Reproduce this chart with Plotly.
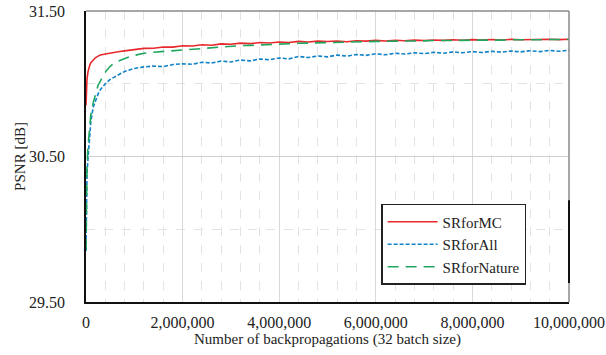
import plotly.graph_objects as go

iterations = [0, 10000, 20000, 40000, 60000, 80000, 100000, 150000, 200000, 250000,
              300000, 400000, 500000, 600000, 700000, 800000, 900000, 1000000,
              1200000, 1400000, 1600000, 1800000, 2000000, 2200000, 2400000, 2600000,
              2800000, 3000000, 3200000, 3400000, 3600000, 3800000, 4000000, 4200000,
              4400000, 4600000, 4800000, 5000000, 5200000, 5400000, 5600000, 5800000,
              6000000, 6200000, 6400000, 6600000, 6800000, 7000000, 7200000, 7400000,
              7600000, 7800000, 8000000, 8200000, 8400000, 8600000, 8800000, 9000000,
              9200000, 9400000, 9600000, 9800000, 10000000]

sr_for_mc = [30.85, 30.98, 31.03, 31.08, 31.11, 31.13, 31.145, 31.165, 31.18, 31.19,
             31.198, 31.205, 31.212, 31.218, 31.222, 31.226, 31.23, 31.235,
             31.243, 31.244, 31.253, 31.252, 31.261, 31.259, 31.268, 31.265,
             31.274, 31.271, 31.279, 31.276, 31.283, 31.280, 31.287, 31.284,
             31.291, 31.287, 31.293, 31.290, 31.294, 31.289, 31.296, 31.293,
             31.298, 31.294, 31.299, 31.296, 31.300, 31.297, 31.301, 31.298,
             31.302, 31.299, 31.303, 31.300, 31.304, 31.301, 31.305, 31.302,
             31.305, 31.303, 31.306, 31.303, 31.306]

sr_for_all = [29.85, 30.15, 30.38, 30.48, 30.58, 30.68, 30.74, 30.84, 30.89, 30.93,
              30.96, 31.00, 31.03, 31.05, 31.07, 31.085, 31.095, 31.105,
              31.116, 31.121, 31.118, 31.132, 31.137, 31.134, 31.148, 31.142,
              31.156, 31.150, 31.163, 31.157, 31.170, 31.165, 31.177, 31.171,
              31.188, 31.180, 31.191, 31.185, 31.197, 31.190, 31.201, 31.195,
              31.206, 31.199, 31.210, 31.204, 31.213, 31.207, 31.216, 31.210,
              31.219, 31.213, 31.221, 31.215, 31.223, 31.217, 31.225, 31.219,
              31.227, 31.221, 31.229, 31.223, 31.230]

sr_for_nature = [29.86, 30.20, 30.42, 30.56, 30.66, 30.74, 30.79, 30.87, 30.94, 30.99,
                 31.02, 31.08, 31.12, 31.145, 31.16, 31.175, 31.185, 31.195,
                 31.210, 31.217, 31.222, 31.229, 31.236, 31.240, 31.246, 31.249,
                 31.254, 31.258, 31.262, 31.264, 31.268, 31.270, 31.273, 31.275,
                 31.278, 31.279, 31.282, 31.283, 31.285, 31.286, 31.288, 31.289,
                 31.291, 31.291, 31.293, 31.293, 31.295, 31.295, 31.297, 31.296,
                 31.298, 31.298, 31.300, 31.299, 31.301, 31.300, 31.302, 31.301,
                 31.303, 31.302, 31.304, 31.303, 31.304]

y_ticks = [29.5, 30.5, 31.5]
x_ticks = [0, 2000000, 4000000, 6000000, 8000000, 10000000]

FONT = "Liberation Serif, Times New Roman, serif"

fig = go.Figure()
fig.add_trace(go.Scatter(x=iterations, y=sr_for_mc, mode="lines", name="SRforMC",
                         line=dict(color="#e8282c", width=1.6)))
fig.add_trace(go.Scatter(x=iterations, y=sr_for_all, mode="lines", name="SRforAll",
                         line=dict(color="#0f82c8", width=1.6, dash="4px,2px")))
fig.add_trace(go.Scatter(x=iterations, y=sr_for_nature, mode="lines", name="SRforNature",
                         line=dict(color="#1fa760", width=1.6, dash="11px,7px")))

fig.update_layout(
    width=606, height=355,
    margin=dict(l=86, r=37, t=11, b=53),
    paper_bgcolor="white", plot_bgcolor="white",
    font=dict(family=FONT, color="#222222", size=16),
    showlegend=True,
    legend=dict(x=0.611, y=0.337, xanchor="left", yanchor="top",
                bordercolor="#222222", borderwidth=1.5, bgcolor="white",
                font=dict(family=FONT, size=15, color="#222222"),
                itemwidth=50, tracegroupgap=0),
    xaxis=dict(range=[0, 10000000], tickvals=x_ticks, tickformat=",d",
               automargin=False, ticklabeloverflow="allow",
               showline=True, linecolor="#111111", linewidth=1.5,
               showgrid=True, gridcolor="#d9d9d9", gridwidth=1,
               minor=dict(dtick=400000, showgrid=True, gridcolor="#e3e3e3",
                          griddash="dash", gridwidth=1),
               zeroline=False, ticks="", ticklabelstandoff=5,
               tickfont=dict(family=FONT, size=16),
               title=dict(text="Number of backpropagations (32 batch size)",
                          font=dict(family=FONT, size=15), standoff=0)),
    yaxis=dict(range=[29.5, 31.5], tickvals=y_ticks, tickformat=".2f",
               automargin=False, ticklabeloverflow="allow",
               showline=True, linecolor="#111111", linewidth=1.5,
               showgrid=True, gridcolor="#d0d0d0", gridwidth=1,
               minor=dict(dtick=0.5, showgrid=True, gridcolor="#e3e3e3",
                          griddash="dash", gridwidth=1),
               zeroline=False, ticks="", ticklabelstandoff=16,
               tickfont=dict(family=FONT, size=16),
               title=dict(text="PSNR [dB]", font=dict(family=FONT, size=15),
                          standoff=0)),
    shapes=[
        dict(type="line", xref="x domain", yref="y domain", x0=0, x1=1, y0=1, y1=1,
             line=dict(color="#8a8a8a", width=1.5)),
        dict(type="line", xref="x domain", yref="y domain", x0=1, x1=1, y0=0, y1=1,
             line=dict(color="#8a8a8a", width=1.5)),
        dict(type="line", xref="x domain", yref="y domain", x0=1, x1=1, y0=0.065, y1=0.35,
             line=dict(color="#111111", width=2)),
    ],
)

fig.write_html("out.html",
               config={"displayModeBar": False},
               post_script="document.body.style.margin='0';document.body.style.padding='0';")
